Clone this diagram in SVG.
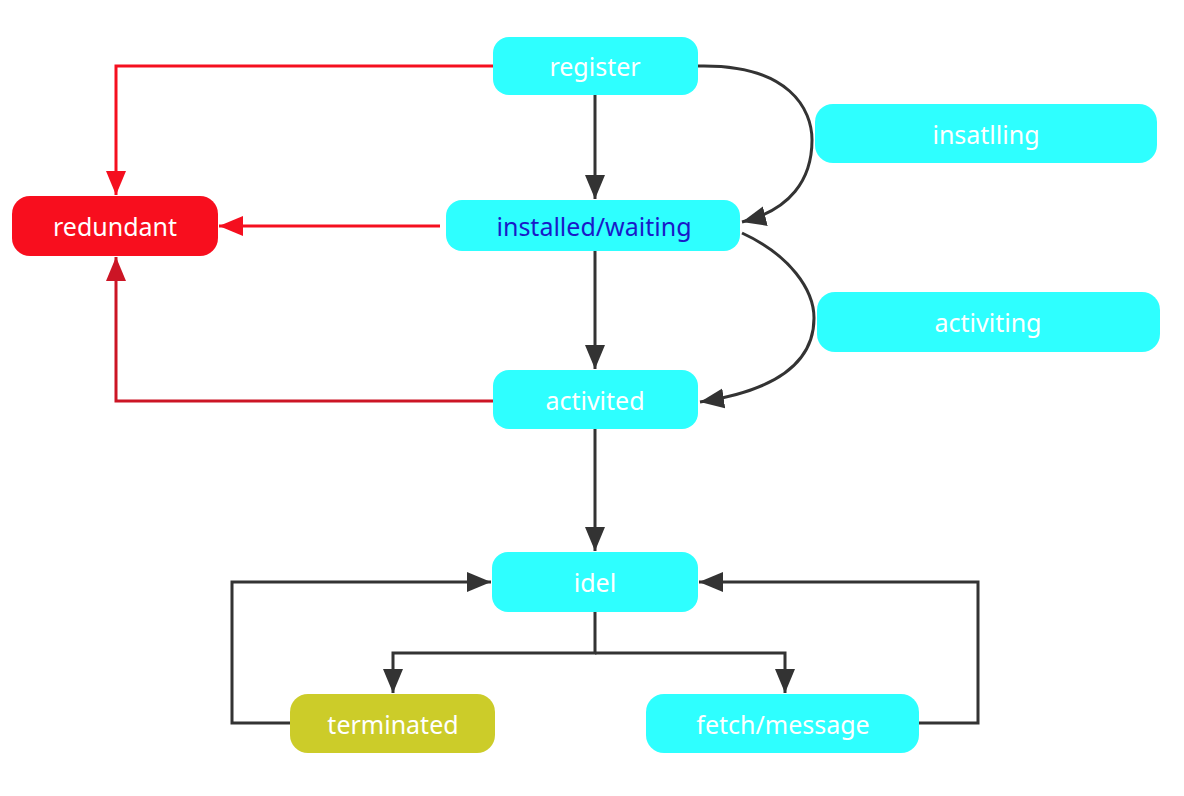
<svg xmlns="http://www.w3.org/2000/svg" width="1184" height="796" viewBox="0 0 1184 796">
<style>
.n{fill:#2effff}
.t{font-family:"Noto Sans","Liberation Sans",sans-serif;font-size:25px;fill:#ffffff;text-anchor:middle;dominant-baseline:central}
.c{fill:none;stroke:#333333;stroke-width:3}
.r{fill:none;stroke:#f50f1f;stroke-width:3}
.r2{fill:none;stroke:#cc1525;stroke-width:3}
</style>
<defs>
<marker id="ad" markerUnits="userSpaceOnUse" markerWidth="26" markerHeight="22" refX="24" refY="11" orient="auto"><path d="M0,1 L24,11 L0,21 Z" fill="#333333"/></marker>
<marker id="ar" markerUnits="userSpaceOnUse" markerWidth="26" markerHeight="22" refX="24" refY="11" orient="auto"><path d="M0,1 L24,11 L0,21 Z" fill="#f50f1f"/></marker>
<marker id="ar2" markerUnits="userSpaceOnUse" markerWidth="26" markerHeight="22" refX="24" refY="11" orient="auto"><path d="M0,1 L24,11 L0,21 Z" fill="#cc1525"/></marker>
</defs>
<g id="connectors">
<path class="r" d="M493,66 H116 V195" marker-end="url(#ar)"/>
<path class="r" d="M440,226 H219" marker-end="url(#ar)"/>
<path class="r2" d="M493,401 H116 V257" marker-end="url(#ar2)"/>
<path class="c" d="M595,95 V199" marker-end="url(#ad)"/>
<path class="c" d="M698,66 C790,64 812,110 812,140 C812,180 790,210 742,222" marker-end="url(#ad)"/>
<path class="c" d="M595,251 V369" marker-end="url(#ad)"/>
<path class="c" d="M742,233 C790,255 814,290 814,318 C814,360 780,390 700,402" marker-end="url(#ad)"/>
<path class="c" d="M595,429 V551" marker-end="url(#ad)"/>
<path class="c" d="M595,611 V653 H393 V693" marker-end="url(#ad)"/>
<path class="c" d="M595,653 H785 V693" marker-end="url(#ad)"/>
<path class="c" d="M290,723 H232 V582 H491" marker-end="url(#ad)"/>
<path class="c" d="M919,723 H978 V582 H699" marker-end="url(#ad)"/>
</g>
<g id="register"><rect class="n" x="493" y="37" width="205" height="58" rx="16"/><text class="t" x="595" y="66">register</text></g>
<g id="installed"><rect class="n" x="446" y="200" width="294" height="51" rx="16"/><text class="t" x="594" y="226" style="fill:#1a1ac8">installed/waiting</text></g>
<g id="activited"><rect class="n" x="493" y="370" width="205" height="59" rx="16"/><text class="t" x="595" y="400">activited</text></g>
<g id="insatlling"><rect class="n" x="815" y="104" width="342" height="59" rx="18"/><text class="t" x="986" y="134">insatlling</text></g>
<g id="activiting"><rect class="n" x="817" y="292" width="343" height="60" rx="18"/><text class="t" x="988" y="322">activiting</text></g>
<g id="redundant"><rect x="12" y="196" width="206" height="60" rx="18" fill="#f80e1e"/><text class="t" x="115" y="226">redundant</text></g>
<g id="idel"><rect class="n" x="492" y="552" width="206" height="60" rx="16"/><text class="t" x="595" y="582">idel</text></g>
<g id="terminated"><rect x="290" y="694" width="205" height="59" rx="18" fill="#cccc29"/><text class="t" x="393" y="724">terminated</text></g>
<g id="fetch"><rect class="n" x="646" y="694" width="273" height="59" rx="18"/><text class="t" x="783" y="724">fetch/message</text></g>
</svg>
